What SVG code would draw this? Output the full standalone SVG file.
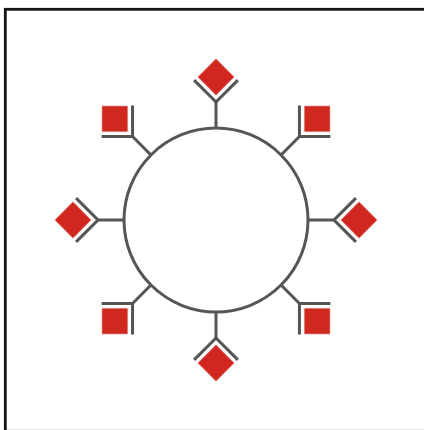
<svg xmlns="http://www.w3.org/2000/svg" width="424" height="430" viewBox="0 0 424 430">
  <style>
    .g { fill: none; stroke: #555555; stroke-width: 3; stroke-linejoin: miter; stroke-linecap: butt; }
    .r { fill: #d0281f; stroke: #f4d6d2; stroke-width: 0.6; }
  </style>
  <defs>
    <g id="unit">
      <polyline class="g" points="194.1,80.1 216,102 237.9,80.1"/>
      <rect class="r" x="203" y="64" width="26" height="26" transform="rotate(45 216 77)"/>
    </g>
  </defs>
  <rect x="0" y="0" width="424" height="430" fill="#ffffff"/>
  <rect x="5.3" y="9.3" width="440" height="440" fill="none" stroke="#151515" stroke-width="2.8"/>
  <line x1="7" y1="429.5" x2="424" y2="429.5" stroke="#e6e6e6" stroke-width="1"/>
  <g id="hub">
    <circle class="g" cx="216" cy="220" r="92"/>
  </g>
  <g id="connectors">
    <line class="g" x1="216" y1="128" x2="216" y2="102" transform="rotate(0 216 220)"/>
    <line class="g" x1="216" y1="128" x2="216" y2="102" transform="rotate(45 216 220)"/>
    <line class="g" x1="216" y1="128" x2="216" y2="102" transform="rotate(90 216 220)"/>
    <line class="g" x1="216" y1="128" x2="216" y2="102" transform="rotate(135 216 220)"/>
    <line class="g" x1="216" y1="128" x2="216" y2="102" transform="rotate(180 216 220)"/>
    <line class="g" x1="216" y1="128" x2="216" y2="102" transform="rotate(225 216 220)"/>
    <line class="g" x1="216" y1="128" x2="216" y2="102" transform="rotate(270 216 220)"/>
    <line class="g" x1="216" y1="128" x2="216" y2="102" transform="rotate(315 216 220)"/>
  </g>
  <g id="node-top" transform="rotate(0 216 220)"><use href="#unit"/></g>
  <g id="node-top-right" transform="rotate(45 216 220)"><use href="#unit"/></g>
  <g id="node-right" transform="rotate(90 216 220)"><use href="#unit"/></g>
  <g id="node-bottom-right" transform="rotate(135 216 220)"><use href="#unit"/></g>
  <g id="node-bottom" transform="rotate(180 216 220)"><use href="#unit"/></g>
  <g id="node-bottom-left" transform="rotate(225 216 220)"><use href="#unit"/></g>
  <g id="node-left" transform="rotate(270 216 220)"><use href="#unit"/></g>
  <g id="node-top-left" transform="rotate(315 216 220)"><use href="#unit"/></g>
</svg>
